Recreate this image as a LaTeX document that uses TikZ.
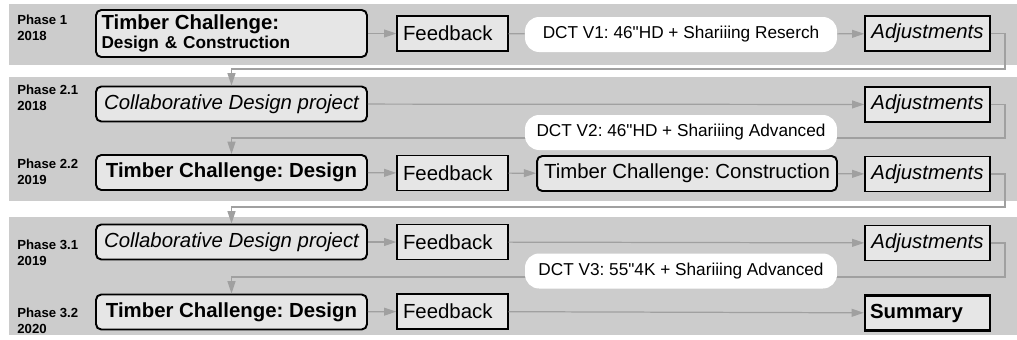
\documentclass[tikz,border=0pt]{standalone}
\usepackage{fontspec}
\setmainfont{Liberation Sans}
\usepackage{tikz}
\usetikzlibrary{arrows.meta}
\definecolor{bandgray}{RGB}{204,204,204}
\definecolor{boxgray}{RGB}{230,230,230}
\definecolor{linegray}{RGB}{160,160,160}
\frenchspacing
\tikzset{
  phase/.style={anchor=west,inner sep=0pt,align=left,font=\fontsize{7.5}{9}\selectfont\bfseries},
  bigbox/.style={draw=black,line width=1.1pt,rounded corners=3pt,fill=boxgray,inner sep=2pt,
    minimum width=5.42cm,minimum height=0.7cm,font=\fontsize{11.6}{14}\selectfont},
  smallbox/.style={draw=black,line width=0.8pt,fill=boxgray,inner sep=2pt,
    minimum width=2.5cm,minimum height=0.7cm,font=\fontsize{11.6}{14}\selectfont},
  feedbox/.style={smallbox,minimum width=2.22cm,align=left,text width=1.98cm},
  pill/.style={fill=white,rounded corners=8pt,minimum width=6.24cm,minimum height=0.7cm,
    font=\fontsize{9.8}{12}\selectfont},
  link/.style={draw=linegray,line width=0.7pt},
  flow/.style={link,-{Triangle[length=7pt,width=4.5pt]}}
}
\begin{document}
\begin{tikzpicture}[x=0.02cm,y=-0.02cm]
\useasboundingbox (0,0) rectangle (1017,339);
% bands
\fill[bandgray] (9,4) rectangle (1017,65);
\fill[bandgray] (9,77) rectangle (1017,201);
\fill[bandgray] (9,217) rectangle (1017,335);
% phase 1
\node[phase] (p1) at (17,28) {Phase 1\\2018};
\node[bigbox,minimum height=0.94cm,align=left,text width=5.2cm,font=\bfseries] (t1) at (231.5,33.5)
  {{\fontsize{11.6}{14}\selectfont Timber Challenge:}\\[-1pt]{\fontsize{9.8}{12}\selectfont Design \& Construction}};
\node[feedbox] (f1) at (452.5,33.5) {Feedback};
\node[pill] (d1) at (681,34.5) {DCT V1: 46\textquotedbl HD + Shariiing Reserch};
\node[smallbox,font=\fontsize{11.6}{14}\selectfont\itshape] (a1) at (927.5,33.5) {Adjustments};
% phase 2.1
\node[phase] (p21) at (17,97.5) {Phase 2.1\\2018};
\node[bigbox,font=\fontsize{11.6}{14}\selectfont\itshape] (c2) at (231.5,104) {Collaborative Design project};
\node[smallbox,font=\fontsize{11.6}{14}\selectfont\itshape] (a2) at (927.5,104.5) {Adjustments};
% phase 2.2
\node[phase] (p22) at (17,172) {Phase 2.2\\2019};
\node[bigbox,font=\fontsize{11.6}{14}\selectfont\bfseries] (t2) at (231.5,172.5) {Timber Challenge: Design};
\node[feedbox] (f2) at (452.5,173) {Feedback};
\node[bigbox,minimum width=6cm] (k2) at (687,173.5) {Timber Challenge: Construction};
\node[smallbox,font=\fontsize{11.6}{14}\selectfont\itshape] (a22) at (927.5,174) {Adjustments};
% phase 3.1
\node[phase] (p31) at (17,253) {Phase 3.1\\2019};
\node[bigbox,font=\fontsize{11.6}{14}\selectfont\itshape] (c3) at (231.5,242) {Collaborative Design project};
\node[feedbox] (f3) at (452.5,242) {Feedback};
\node[smallbox,font=\fontsize{11.6}{14}\selectfont\itshape] (a3) at (927.5,243) {Adjustments};
% phase 3.2
\node[phase] (p32) at (17,321) {Phase 3.2\\2020};
\node[bigbox,font=\fontsize{11.6}{14}\selectfont\bfseries] (t3) at (231.5,312) {Timber Challenge: Design};
\node[feedbox] (f4) at (452.5,311.5) {Feedback};
\node[smallbox,line width=1.3pt,align=left,text width=2.3cm,font=\fontsize{11.6}{14}\selectfont\bfseries] (s3) at (927.5,313) {Summary};
% connectors
\coordinate (r1) at (1005,69);
\coordinate (r2) at (1005,138);
\coordinate (r3) at (1005,207);
\coordinate (r4) at (1005,277);
\draw[flow] (t1) -- (f1);
\draw[link] (f1) -- (d1);
\draw[flow] (d1) -- (a1);
\draw[flow] (a1.east) -| (r1) -| (c2.north);
\draw[flow] (c2) -- (a2);
\draw[flow] (a2.east) -| (r2) -| (t2.north);
\draw[flow] (t2) -- (f2);
\draw[flow] (f2) -- (k2);
\draw[flow] (k2) -- (a22);
\draw[flow] (a22.east) -| (r3) -| (c3.north);
\draw[flow] (c3) -- (f3);
\draw[flow] (f3) -- (a3);
\draw[flow] (a3.east) -| (r4) -| (t3.north);
\draw[flow] (t3) -- (f4);
\draw[flow] (f4) -- (s3);
% pills over the return lines
\node[pill] (d2) at (681,132.5) {DCT V2: 46\textquotedbl HD + Shariiing Advanced};
\node[pill] (d3) at (681,271) {DCT V3: 55\textquotedbl 4K + Shariiing Advanced};
\end{tikzpicture}
\end{document}
